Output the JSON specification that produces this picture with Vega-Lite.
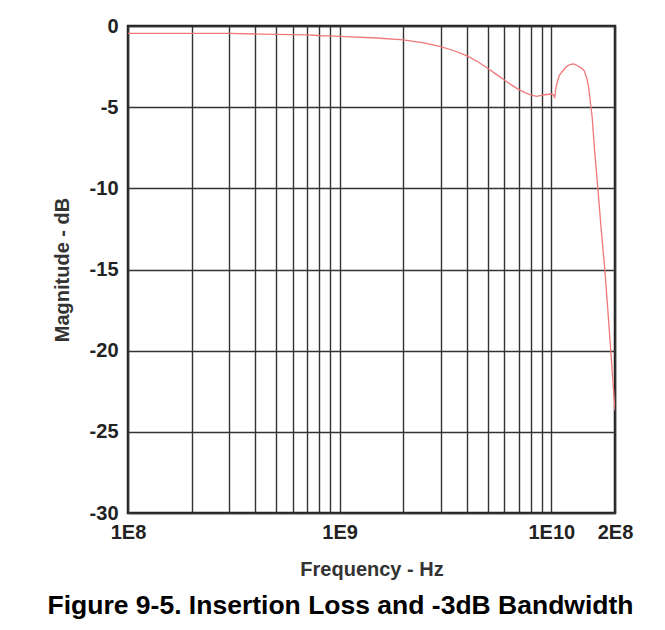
{
  "$schema": "https://vega.github.io/schema/vega-lite/v6.json",
  "width": 487,
  "height": 487,
  "autosize": {"type": "none"},
  "padding": {"left": 128, "top": 26, "right": 50, "bottom": 117},
  "background": "white",
  "config": {
    "view": {"stroke": "#222222", "strokeWidth": 2.5},
    "font": "Liberation Sans"
  },
  "title": {
    "text": "Figure 9-5. Insertion Loss and -3dB Bandwidth",
    "orient": "bottom",
    "anchor": "middle",
    "font": "Liberation Sans",
    "fontSize": 26.5,
    "fontWeight": "bold",
    "color": "#000000",
    "offset": 14,
    "dx": -31
  },
  "data": {
    "values": [
      {"f": 1e8, "db": -0.45},
      {"f": 2e8, "db": -0.45},
      {"f": 3e8, "db": -0.46},
      {"f": 4.3e8, "db": -0.5},
      {"f": 5e8, "db": -0.52},
      {"f": 6e8, "db": -0.53},
      {"f": 7e8, "db": -0.55},
      {"f": 8.2e8, "db": -0.6},
      {"f": 9e8, "db": -0.61},
      {"f": 1.06e9, "db": -0.66},
      {"f": 1.5e9, "db": -0.74},
      {"f": 2e9, "db": -0.85},
      {"f": 2.5e9, "db": -1.04},
      {"f": 3e9, "db": -1.27},
      {"f": 3.5e9, "db": -1.54},
      {"f": 4e9, "db": -1.84},
      {"f": 4.5e9, "db": -2.2},
      {"f": 5e9, "db": -2.6},
      {"f": 5.5e9, "db": -2.98},
      {"f": 6e9, "db": -3.33},
      {"f": 6.5e9, "db": -3.64},
      {"f": 7e9, "db": -3.9},
      {"f": 7.5e9, "db": -4.1},
      {"f": 8e9, "db": -4.25},
      {"f": 8.5e9, "db": -4.33},
      {"f": 9e9, "db": -4.28},
      {"f": 9.5e9, "db": -4.22},
      {"f": 1.0e10, "db": -4.19},
      {"f": 1.02e10, "db": -4.22},
      {"f": 1.038e10, "db": -4.4},
      {"f": 1.05e10, "db": -3.85},
      {"f": 1.065e10, "db": -3.5},
      {"f": 1.09e10, "db": -3.05},
      {"f": 1.126e10, "db": -2.8},
      {"f": 1.18e10, "db": -2.5},
      {"f": 1.23e10, "db": -2.36},
      {"f": 1.28e10, "db": -2.33},
      {"f": 1.33e10, "db": -2.45},
      {"f": 1.38e10, "db": -2.58},
      {"f": 1.43e10, "db": -2.75},
      {"f": 1.47e10, "db": -3.2},
      {"f": 1.5e10, "db": -3.75},
      {"f": 1.53e10, "db": -4.7},
      {"f": 1.56e10, "db": -5.6},
      {"f": 1.6e10, "db": -7.6},
      {"f": 1.66e10, "db": -10},
      {"f": 1.72e10, "db": -12.5},
      {"f": 1.79e10, "db": -15},
      {"f": 1.85e10, "db": -17.5},
      {"f": 1.91e10, "db": -20},
      {"f": 2.0e10, "db": -23.7}
    ]
  },
  "mark": {"type": "line", "color": "#f07878", "strokeWidth": 1.3, "clip": true},
  "encoding": {
    "x": {
      "field": "f",
      "type": "quantitative",
      "scale": {"type": "log", "domain": [1e8, 2e10], "nice": false},
      "axis": {
        "title": "Frequency - Hz",
        "titleFont": "Liberation Sans",
        "titleFontSize": 20,
        "titleFontWeight": "bold",
        "titleColor": "#333333",
        "titlePadding": 17,
        "values": [1e8, 2e8, 3e8, 4e8, 5e8, 6e8, 7e8, 8e8, 9e8, 1e9, 2e9, 3e9, 4e9, 5e9, 6e9, 7e9, 8e9, 9e9, 1e10, 2e10],
        "labelExpr": "datum.value == 1e8 ? '1E8' : datum.value == 1e9 ? '1E9' : datum.value == 1e10 ? '1E10' : datum.value == 2e10 ? '2E8' : ''",
        "labelOverlap": false,
        "labelFont": "Liberation Sans",
        "labelFontSize": 20,
        "labelFontWeight": "bold",
        "labelColor": "#222222",
        "labelPadding": 9,
        "labelFlush": false,
        "ticks": false,
        "domain": false,
        "grid": true,
        "gridColor": "#333333",
        "gridWidth": 1.4,
        "gridOpacity": 1
      }
    },
    "y": {
      "field": "db",
      "type": "quantitative",
      "scale": {"domain": [-30, 0], "nice": false, "zero": false},
      "axis": {
        "title": "Magnitude - dB",
        "titleFont": "Liberation Sans",
        "titleFontSize": 20,
        "titleFontWeight": "bold",
        "titleColor": "#333333",
        "titlePadding": 17,
        "values": [-30, -25, -20, -15, -10, -5, 0],
        "labelExpr": "'' + datum.value",
        "labelFont": "Liberation Sans",
        "labelFontSize": 20,
        "labelFontWeight": "bold",
        "labelColor": "#222222",
        "labelPadding": 10,
        "labelFlush": false,
        "ticks": false,
        "domain": false,
        "grid": true,
        "gridColor": "#333333",
        "gridWidth": 1.4,
        "gridOpacity": 1
      }
    }
  }
}
